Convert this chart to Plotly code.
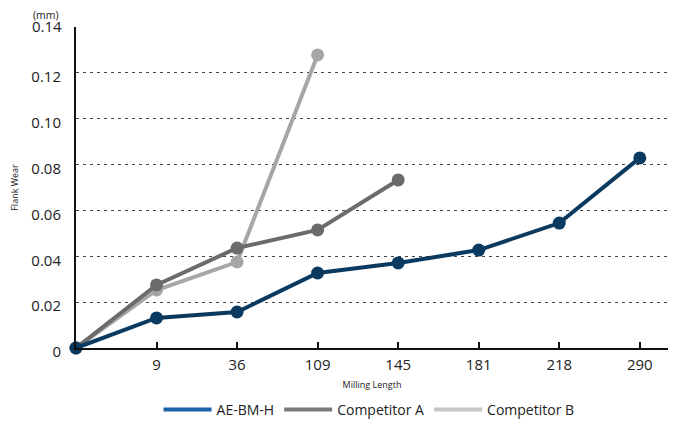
import plotly.graph_objects as go

categories = ["0", "9", "36", "109", "145", "181", "218", "290"]
tick_labels = ["", "9", "36", "109", "145", "181", "218", "290"]
ae_bm_h = [0, 0.0131, 0.0157, 0.0327, 0.0371, 0.0427, 0.0545, 0.0829]
competitor_a = [0, 0.0275, 0.0436, 0.0515, 0.0733]
competitor_b = [0, 0.0253, 0.0375, 0.1278]
y_ticks = [0, 0.02, 0.04, 0.06, 0.08, 0.10, 0.12, 0.14]
y_tick_labels = ["0", "0.02", "0.04", "0.06", "0.08", "0.10", "0.12", "0.14"]

FONT = "Open Sans, sans-serif"
series = [
    ("AE-BM-H", ae_bm_h, "#0b3a60", "#1a62aa"),
    ("Competitor A", competitor_a, "#6b6b6b", "#7a7a7a"),
    ("Competitor B", competitor_b, "#a6a6a6", "#c6c6c6"),
]

fig = go.Figure()
for name, vals, col, _ in reversed(series):
    fig.add_trace(go.Scatter(
        x=list(range(len(vals))), y=vals, mode="lines+markers",
        line=dict(color=col, width=4), marker=dict(color=col, size=13),
        showlegend=False, cliponaxis=False, name=name))
for name, vals, _, lcol in series:
    fig.add_trace(go.Scatter(
        x=[None], y=[None], mode="lines", name=name,
        line=dict(color=lcol, width=4)))

# top tick label is drawn as an annotation (it sits above its gridline in the original)
axis_labels = y_tick_labels[:-1] + [""]

# page body has an 8px margin, so the figure is sized to fit the remaining window
fig.update_layout(
    width=673, height=416,
    margin=dict(l=68, r=13, t=19, b=76, autoexpand=False),
    paper_bgcolor="white", plot_bgcolor="white",
    font=dict(family=FONT, color="#222"),
    showlegend=True,
    legend=dict(orientation="h", x=0.495, xanchor="center", y=-0.193, yanchor="middle",
                font=dict(size=14, color="#222"), itemwidth=48, tracegroupgap=0),
    xaxis=dict(
        automargin=False,
        range=[0, 7.35], tickvals=list(range(len(categories))), ticktext=tick_labels,
        showgrid=False, zeroline=False, showline=True, linecolor="#111", linewidth=2,
        ticks="inside", ticklen=6, tickwidth=2, tickcolor="#111",
        tickfont=dict(size=15, color="#222"), ticklabelstandoff=2,
        title=dict(text="Milling Length", font=dict(size=9, color="#222"), standoff=9),
    ),
    yaxis=dict(
        automargin=False,
        range=[0, 0.14], tickvals=y_ticks, ticktext=axis_labels,
        showgrid=True, gridcolor="#444", griddash="3px,4px", gridwidth=1,
        zeroline=False, showline=True, linecolor="#111", linewidth=2,
        ticks="", tickfont=dict(size=15, color="#222"), ticklabelstandoff=10,
        ticklabelshift=4,
        title=dict(text="Flank Wear", font=dict(size=9, color="#222"), standoff=17),
    ),
    annotations=[
        dict(text=y_tick_labels[-1], xref="paper", yref="y", x=-0.0215, y=y_ticks[-1],
             xanchor="right", yanchor="middle", yshift=1, borderpad=0, showarrow=False,
             font=dict(size=15, color="#222")),
        dict(text="(mm)", xref="paper", yref="paper", x=-0.027, y=1.0,
             xanchor="right", yanchor="middle", yshift=12, borderpad=0,
             showarrow=False, font=dict(size=10.5, color="#222")),
    ],
)

fig.write_html("out.html")
